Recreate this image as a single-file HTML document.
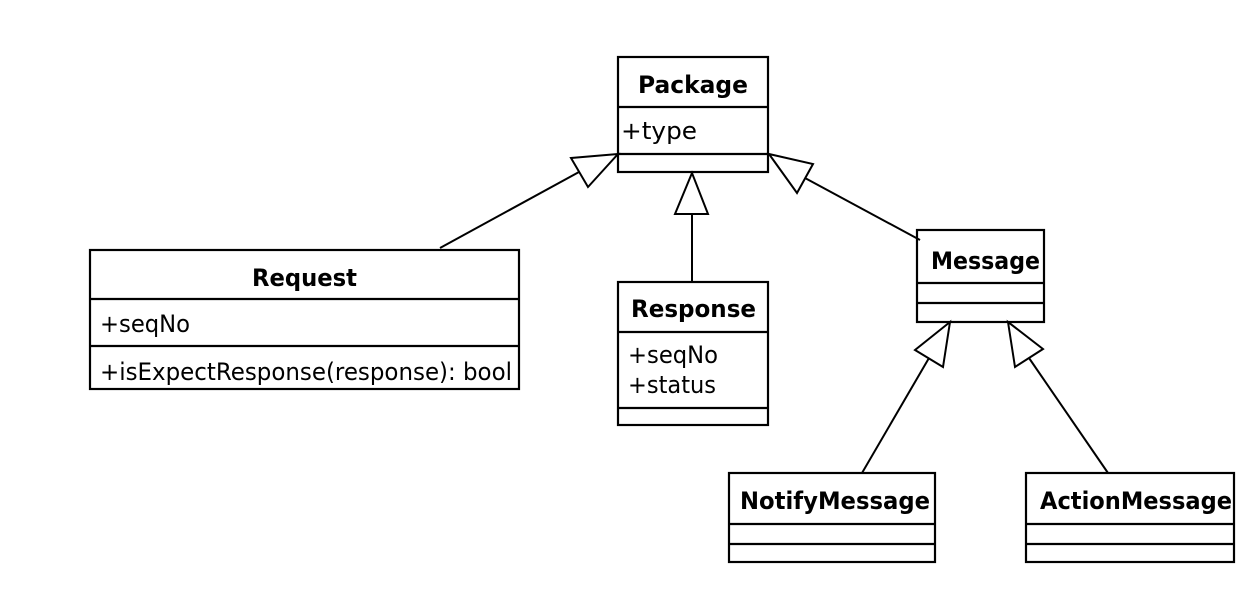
<!DOCTYPE html>
<html><head><meta charset="utf-8"><style>
html,body{margin:0;padding:0;background:#fff;}
svg{display:block;}
text{font-family:"DejaVu Sans","Liberation Sans",sans-serif;font-size:24px;fill:#000;}
.b{font-weight:bold;}
</style></head><body>
<svg width="1256" height="604" viewBox="0 0 1256 604" xmlns="http://www.w3.org/2000/svg">
<g fill="#fff" stroke="#000" stroke-width="2.2">
<rect x="618" y="57" width="150" height="115"/>
<line x1="618" y1="107" x2="768" y2="107"/>
<line x1="618" y1="154" x2="768" y2="154"/>
<rect x="90" y="250" width="429" height="139"/>
<line x1="90" y1="299" x2="519" y2="299"/>
<line x1="90" y1="346" x2="519" y2="346"/>
<rect x="618" y="282" width="150" height="143"/>
<line x1="618" y1="332" x2="768" y2="332"/>
<line x1="618" y1="408" x2="768" y2="408"/>
<rect x="917" y="230" width="127" height="92"/>
<line x1="917" y1="283" x2="1044" y2="283"/>
<line x1="917" y1="303" x2="1044" y2="303"/>
<rect x="729" y="473" width="206" height="89"/>
<line x1="729" y1="524" x2="935" y2="524"/>
<line x1="729" y1="544" x2="935" y2="544"/>
<rect x="1026" y="473" width="208" height="89"/>
<line x1="1026" y1="524" x2="1234" y2="524"/>
<line x1="1026" y1="544" x2="1234" y2="544"/>
</g>
<g stroke="#000" stroke-width="2" fill="none">
<line x1="440" y1="248" x2="579" y2="172"/>
<line x1="692" y1="282" x2="692" y2="214"/>
<line x1="920" y1="240" x2="805" y2="178"/>
<line x1="862" y1="473" x2="929" y2="358"/>
<line x1="1108" y1="473" x2="1029" y2="358"/>
</g>
<g stroke="#000" stroke-width="2" fill="#fff">
<polygon points="618,154 571,158 588,187"/>
<polygon points="692,173 675,214 708,214"/>
<polygon points="769,154 813,164 797,193"/>
<polygon points="950,322 915,350 943,367"/>
<polygon points="1008,322 1015,367 1043,349"/>
</g>
<text class="b" x="638" y="93" textLength="110" lengthAdjust="spacingAndGlyphs">Package</text>
<text x="621" y="139" textLength="76" lengthAdjust="spacingAndGlyphs">+type</text>
<text class="b" x="252" y="286" textLength="105" lengthAdjust="spacingAndGlyphs">Request</text>
<text x="100" y="332" textLength="90" lengthAdjust="spacingAndGlyphs">+seqNo</text>
<text x="100" y="380" textLength="412" lengthAdjust="spacingAndGlyphs">+isExpectResponse(response): bool</text>
<text class="b" x="631" y="317" textLength="125" lengthAdjust="spacingAndGlyphs">Response</text>
<text x="628" y="363" textLength="90" lengthAdjust="spacingAndGlyphs">+seqNo</text>
<text x="628" y="393" textLength="88" lengthAdjust="spacingAndGlyphs">+status</text>
<text class="b" x="931" y="269" textLength="109" lengthAdjust="spacingAndGlyphs">Message</text>
<text class="b" x="740" y="509" textLength="190" lengthAdjust="spacingAndGlyphs">NotifyMessage</text>
<text class="b" x="1040" y="509" textLength="192" lengthAdjust="spacingAndGlyphs">ActionMessage</text>
</svg>
</body></html>
